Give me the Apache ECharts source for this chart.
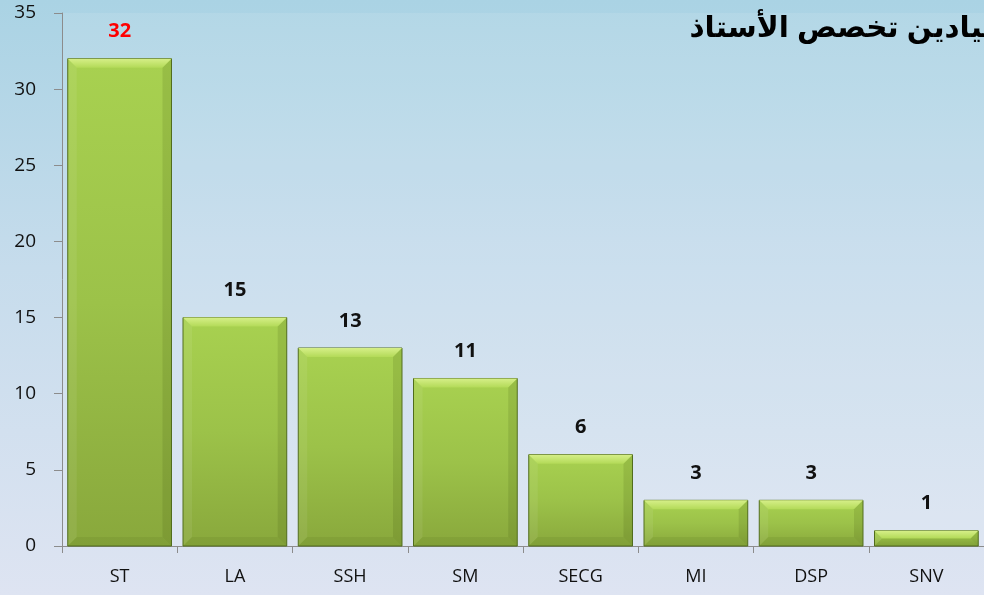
<!DOCTYPE html>
<html>
<head>
<meta charset="utf-8">
<script src="https://cdn.jsdelivr.net/npm/echarts@6/dist/echarts.min.js"></script>
<style>
  html, body { margin: 0; padding: 0; }
  #chart { width: 984px; height: 595px; }
</style>
</head>
<body>
<div id="chart"></div>
<script>
// Specialisation fields of teachers and their counts
const titleText = 'ميادين تخصص الأستاذ';
const categories = ['ST', 'LA', 'SSH', 'SM', 'SECG', 'MI', 'DSP', 'SNV'];
const counts = [32, 15, 13, 11, 6, 3, 3, 1];
const yTicks = { min: 0, max: 35, interval: 5 };
const highlightIndex = 0; // the leading field gets a red label

const chart = echarts.init(document.getElementById('chart'));

// Beveled green bar, drawn from the axis coordinates of each value
function renderBar(params, api) {
  const idx = api.value(0);
  const val = api.value(1);
  const top = api.coord([idx, val]);
  const base = api.coord([idx, 0]);
  const band = api.size([1, 0])[0];
  const w = band * 0.9;
  const x0 = top[0] - w / 2, x1 = top[0] + w / 2;
  const y0 = top[1], y1 = base[1];
  const h = y1 - y0;
  const b = Math.min(9, h / 2, w / 2);

  const body = {
    type: 'rect',
    shape: { x: x0, y: y0, width: w, height: h },
    style: {
      fill: new echarts.graphic.LinearGradient(0, 0, 0, 1, [
        { offset: 0, color: '#a8d150' },
        { offset: 0.5, color: '#9cc249' },
        { offset: 1, color: '#89a83c' }
      ]),
      stroke: '#506c1c',
      lineWidth: 1
    }
  };
  const topBevel = {
    type: 'polygon',
    shape: { points: [[x0, y0], [x1, y0], [x1 - b, y0 + b], [x0 + b, y0 + b]] },
    style: {
      fill: new echarts.graphic.LinearGradient(0, 0, 0, 1, [
        { offset: 0, color: '#d6ef88' },
        { offset: 1, color: '#b3da58' }
      ])
    }
  };
  const leftBevel = {
    type: 'polygon',
    shape: { points: [[x0 + 0.5, y0 + 0.5], [x0 + b, y0 + b], [x0 + b, y1 - b], [x0 + 0.5, y1 - 0.5]] },
    style: { fill: 'rgba(255,255,255,0.07)' }
  };
  const rightBevel = {
    type: 'polygon',
    shape: { points: [[x1 - 0.5, y0 + 0.5], [x1 - b, y0 + b], [x1 - b, y1 - b], [x1 - 0.5, y1 - 0.5]] },
    style: { fill: 'rgba(40,60,0,0.12)' }
  };
  const bottomBevel = {
    type: 'polygon',
    shape: { points: [[x0 + 0.5, y1 - 0.5], [x0 + b, y1 - b], [x1 - b, y1 - b], [x1 - 0.5, y1 - 0.5]] },
    style: { fill: 'rgba(40,60,0,0.08)' }
  };
  const label = {
    type: 'text',
    x: top[0],
    y: y0 - 17,
    style: {
      text: String(val),
      fontFamily: '"Open Sans", Lato, sans-serif',
      fontWeight: 'bold',
      fontSize: 20,
      fill: idx === highlightIndex ? '#ff0000' : '#111111',
      align: 'center',
      verticalAlign: 'bottom'
    }
  };
  return {
    type: 'group',
    children: [body, topBevel, leftBevel, rightBevel, bottomBevel, label]
  };
}

chart.setOption({
  backgroundColor: new echarts.graphic.LinearGradient(0, 0, 0, 1, [
    { offset: 0, color: '#aad3e4' },
    { offset: 0.45, color: '#c6dcec' },
    { offset: 1, color: '#dee4f2' }
  ]),
  animation: false,
  graphic: [{
    type: 'text',
    right: -17,
    top: 14,
    style: {
      text: titleText,
      fontFamily: '"Liberation Sans", "DejaVu Sans", sans-serif',
      fontWeight: 'bold',
      fontSize: 29.5,
      fill: '#000000'
    }
  }],
  grid: {
    left: 62,
    top: 13,
    width: 924,
    height: 533,
    show: true,
    backgroundColor: 'rgba(255,255,255,0.10)',
    borderWidth: 0
  },
  xAxis: {
    type: 'category',
    data: categories,
    boundaryGap: true,
    axisLine: { lineStyle: { color: '#8c8c8c', width: 1 } },
    axisTick: { show: true, length: 7, lineStyle: { color: '#8c8c8c' } },
    axisLabel: {
      color: '#111111',
      fontFamily: '"Open Sans", Lato, sans-serif',
      fontSize: 18,
      margin: 22
    }
  },
  yAxis: {
    type: 'value',
    min: yTicks.min,
    max: yTicks.max,
    interval: yTicks.interval,
    splitLine: { show: false },
    axisLine: { show: true, lineStyle: { color: '#8c8c8c', width: 1 } },
    axisTick: { show: true, length: 8, lineStyle: { color: '#8c8c8c' } },
    axisLabel: {
      color: '#111111',
      fontFamily: '"Open Sans", Lato, sans-serif',
      fontSize: 19,
      margin: 26
    }
  },
  series: [{
    type: 'custom',
    renderItem: renderBar,
    encode: { x: 0, y: 1 },
    data: counts.map((v, i) => [i, v])
  }]
});
</script>
</body>
</html>
